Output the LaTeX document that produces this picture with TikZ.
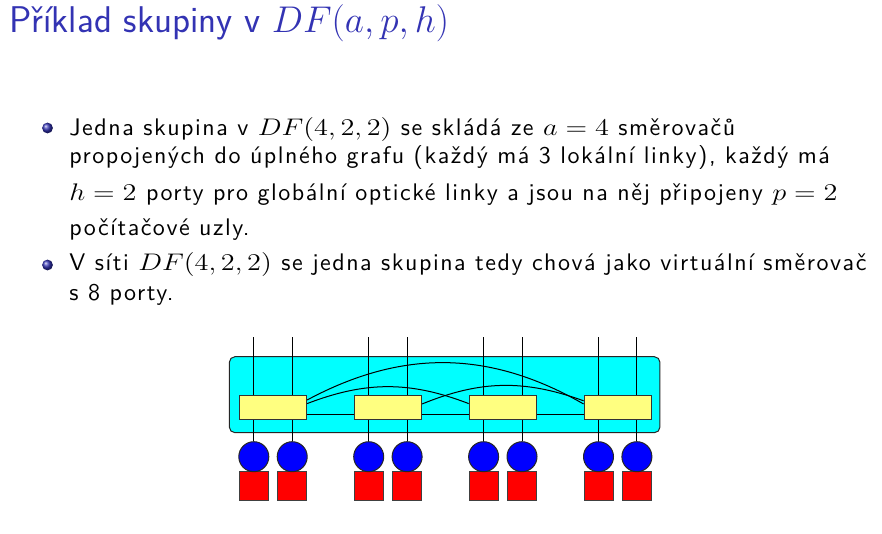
\RequirePackage{fix-cm}
\documentclass[tikz,border=0pt]{standalone}
\usepackage[no-math]{fontspec}
\newfontfamily\bodysans{lmsans10-regular.otf}[LetterSpace=6.3]
\newcommand{\wmath}[1]{\scalebox{1.18}[1]{$#1$}}
\definecolor{structblue}{RGB}{51,51,179}
\definecolor{routerfill}{RGB}{255,255,128}
\definecolor{groupcyan}{RGB}{0,255,255}
\pgfdeclarelayer{back}
\pgfdeclarelayer{mid}
\pgfsetlayers{back,mid,main}
\begin{document}
\begin{tikzpicture}[x=0.5pt,y=-0.5pt,
  titletext/.style={anchor=base west, inner sep=0pt, text=structblue,
    font=\sffamily\fontsize{18.6}{21}\selectfont},
  bodytext/.style={anchor=base west, inner sep=0pt,
    font=\bodysans\fontsize{12}{14}\selectfont},
  bulletball/.style={circle, inner sep=0pt, minimum size=5.4pt,
    shading=ball, ball color=structblue},
  groupbox/.style={draw=black!85, line width=0.5pt, fill=groupcyan,
    rounded corners=2.8pt, minimum width=215.3pt, minimum height=38pt, inner sep=0pt},
  router/.style={draw=black!80, line width=0.5pt, fill=routerfill,
    minimum width=33.6pt, minimum height=12.1pt, inner sep=0pt},
  host/.style={circle, draw=black!85, line width=0.5pt, fill=blue,
    minimum size=15pt, inner sep=0pt},
  term/.style={draw=black!75, line width=0.5pt, fill=red,
    minimum size=14.5pt, inner sep=0pt},
  wire/.style={draw=black, line width=0.5pt},
]
\useasboundingbox (0,0) rectangle (882,534);

% heading
\node[titletext] (title) at (9,33) {Příklad skupiny v $DF(a,p,h)$};

% bullet list
\node[bulletball] (b1) at (47.5,128) {};
\node[bodytext] (l1) at (69,135.7) {Jedna skupina v \wmath{DF(4,2,2)} se skládá ze \wmath{a=4} směrovačů};
\node[bodytext] (l2) at (69,163.3) {propojených do úplného grafu (každý má 3 lokální linky), každý má};
\node[bodytext] (l3) at (69,200) {\wmath{h=2} porty pro globální optické linky a jsou na něj připojeny \wmath{p=2}};
\node[bodytext] (l4) at (69,235.7) {počítačové uzly.};
\node[bulletball] (b2) at (47.5,265) {};
\node[bodytext] (l5) at (69,270.7) {V síti \wmath{DF(4,2,2)} se jedna skupina tedy chová jako virtuální směrovač};
\node[bodytext] (l6) at (69,300) {s 8 porty.};

% the group: one box holding four routers
\begin{pgfonlayer}{back}
\node[groupbox] (grp) at (444.65,394.7) {};
\end{pgfonlayer}

\foreach \i/\x in {1/273,2/387.9,3/502.8,4/617.7} {
  \node[router] (r\i) at (\x,407.2) {};
  \foreach \j/\d in {1/-19.2,2/19.2} {
    \coordinate (t\i\j) at (\x+\d,337);
    \node[term] (s\i\j) at (\x+\d,485.7) {};
    \node[host] (c\i\j) at (\x+\d,456.7) {};
    \begin{pgfonlayer}{mid}
      \draw[wire] (t\i\j) -- (c\i\j.north);
    \end{pgfonlayer}
  }
}

% local links (complete graph on the four routers)
\begin{pgfonlayer}{mid}
\draw[wire] ([yshift=-3.5pt]r1.east) -- ([yshift=-3.5pt]r2.west);
\draw[wire] ([yshift=-3.5pt]r2.east) -- ([yshift=-3.5pt]r3.west);
\draw[wire] ([yshift=-3.5pt]r3.east) -- ([yshift=-3.5pt]r4.west);
\draw[wire] ([yshift=1.8pt]r1.east) to[bend left=21] ([yshift=1.8pt]r3.west);
\draw[wire] ([yshift=1.6pt]r2.east) to[bend left=21] ([yshift=3.2pt]r4.west);
\draw[wire] ([yshift=3.6pt]r1.east) to[bend left=29] ([yshift=1.6pt]r4.west);
\end{pgfonlayer}
\end{tikzpicture}
\end{document}
